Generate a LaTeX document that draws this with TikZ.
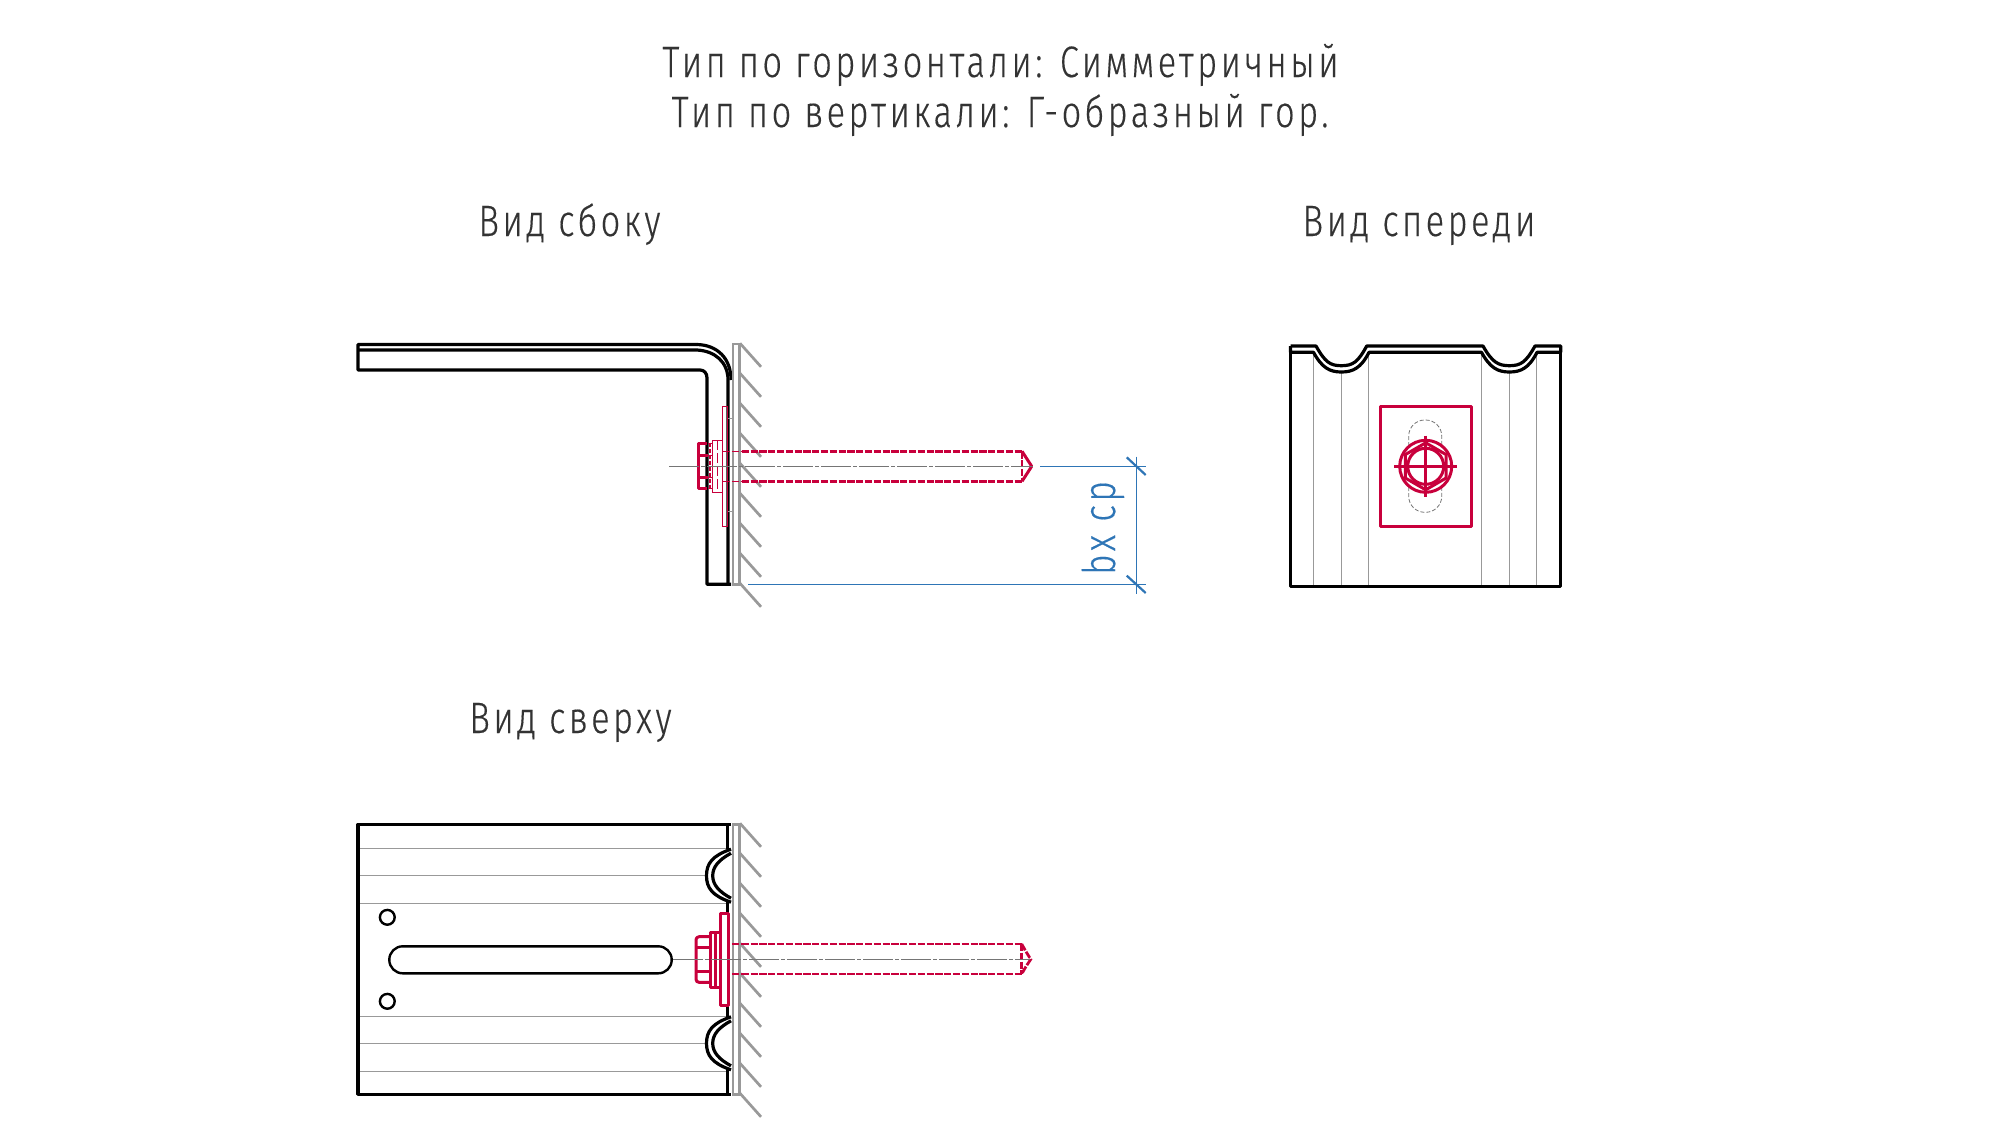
\documentclass[tikz,border=0pt]{standalone}
\usepackage{fontspec}
\setmainfont[UprightFont=* Light,FakeStretch=0.78,LetterSpace=8,FakeBold=0.3]{Fira Sans}
\usetikzlibrary{shapes.geometric}
\definecolor{boltred}{HTML}{C8003C}
\definecolor{dimblue}{HTML}{2E75B6}
\definecolor{wallgray}{HTML}{999999}
\definecolor{axisgray}{HTML}{757575}
\definecolor{titlegray}{HTML}{333333}

\begin{document}
\begin{tikzpicture}[
    x=0.5pt, y=-0.5pt,
    part/.style={draw=black, line width=1.6pt, line join=round},
    foldline/.style={draw=wallgray, line width=0.55pt},
    wall/.style={draw=wallgray, line width=1.35pt},
    axisline/.style={draw=axisgray, line width=0.6pt, dash pattern=on 15pt off 1pt on 2pt off 1pt},
    hidden/.style={draw=axisgray, line width=0.4pt, dash pattern=on 2pt off 1pt},
    bolt/.style={draw=boltred, line width=1.5pt, line join=round},
    boltthin/.style={draw=boltred, line width=0.55pt},
    shank/.style={draw=boltred, line width=1.4pt, dash pattern=on 3.6pt off 0.8pt},
    shankthin/.style={draw=boltred, line width=0.55pt, dash pattern=on 3.4pt off 1pt},
    dim/.style={draw=dimblue, line width=0.55pt},
    dimtick/.style={draw=dimblue, line width=1.1pt},
    title/.style={anchor=base, text=titlegray, font=\fontsize{22}{22}\selectfont},
    dimtext/.style={anchor=base, rotate=90, text=dimblue, font=\fontsize{22.5}{22.5}\selectfont}
]
\fill[white] (0,0) rectangle (2000,1125);
\useasboundingbox (0,0) rectangle (2000,1125);

% titles
\node[title] (typeh) at (1000.5,77) {Тип по горизонтали: Симметричный};
\node[title] (typev) at (1000,127) {Тип по вертикали: Г-образный гор.};
\node[title] (sideview) at (569.5,236) {Вид сбоку};
\node[title] (frontview) at (1419,236) {Вид спереди};
\node[title] (topview) at (570.5,733) {Вид сверху};

% side view
\draw[part] (697,344.5) -- (358,344.5) -- (358,370) -- (700,370)
  .. controls (704,370) and (707,373) .. (707,378) -- (707,584.3) -- (731,584.3);
\draw[part] (358,350) -- (697,350) .. controls (715,351) and (728,362) .. (728,380) -- (728,584.3);
\draw[part] (697,344.5) .. controls (717,345) and (731,358) .. (731,380);

\foreach \n in {0,...,8}
  \draw[wall] (740,{343.3+30*\n}) -- +(21,23.5);
\draw[wall] (733,584.3) -- (733,344) -- (739.3,344) -- (739.3,584.3) -- cycle;

\draw[foldline] (727.3,418.3) -- (733,418.3);
\draw[foldline] (727.3,511.7) -- (733,511.7);
\draw[boltthin] (722.3,406.3) rectangle (727.3,526.7);
\draw[boltthin] (712.3,440.3) rectangle (722.3,492.3);
\draw[boltthin, dash pattern=on 5pt off 1.5pt] (717.3,440.3) -- (717.3,492.3);
\draw[boltthin, dash pattern=on 2pt off 1pt] (710,442.7) -- (710,490);
\draw[boltthin] (708,443.3) -- (712.3,443.3) (708,488.3) -- (712.3,488.3)
  (708,455.3) -- (712.3,455.3) (708,477.3) -- (712.3,477.3);
\draw[bolt] (707,443.3) -- (698.3,443.3) -- (698.3,488.3) -- (707,488.3);
\draw[bolt] (698.3,455.3) -- (708,455.3);
\draw[bolt] (698.3,477.3) -- (708,477.3);

\draw[shankthin] (723,451.3) -- (741.7,451.3);
\draw[shankthin] (723,481.3) -- (741.7,481.3);
\draw[shank] (741.7,451.3) -- (1022,451.3);
\draw[shank] (741.7,481.3) -- (1022,481.3);
\draw[bolt] (1022,451.3) -- (1031.7,466.3) -- (1022,481.3);
\draw[shank] (1022,451.3) -- (1022,481.3);
\draw[axisline] (669.3,466.3) -- (1032.7,466.3);

% dimension
\coordinate (dimtop) at (1136.3,466.3);
\coordinate (dimbottom) at (1136.3,584.3);
\draw[dim] (1040,466.3) -- (1146,466.3);
\draw[dim] (748,584.3) -- (1146,584.3);
\draw[dim] (1136.3,456.7) -- (dimtop) -- (dimbottom) -- (1136.3,594);
\draw[dimtick] (1126.7,457.3) -- (1145.7,475);
\draw[dimtick] (1126.7,575.6) -- (1145.7,593);
\node[dimtext] (dimlabel) at (1115,528) {bx ср};

% front view
\foreach \x in {1313.3,1368.3,1481.3,1536.3}
  \draw[foldline] (\x,353) -- (\x,586.7);
\foreach \x in {1341.3,1509.3}
  \draw[foldline] (\x,372) -- (\x,586.7);
\draw[part] (1290.5,352.3) -- (1290.5,586.7) -- (1560.7,586.7) -- (1560.7,352.3);
\draw[part] (1290.5,346) -- (1316,346)
  .. controls (1325,362) and (1330,365.7) .. (1341.3,365.7)
  .. controls (1353,365.7) and (1358,362) .. (1366.7,346)
  -- (1483,346)
  .. controls (1492,362) and (1498,365.7) .. (1509.3,365.7)
  .. controls (1521,365.7) and (1526,362) .. (1535,346)
  -- (1560.7,346) -- (1560.7,352.3);
\draw[part] (1290.5,346) -- (1290.5,352.3) -- (1313.5,352.3)
  .. controls (1322,368) and (1330,372) .. (1341.3,372)
  .. controls (1353,372) and (1361,368) .. (1369,352.3)
  -- (1481.5,352.3)
  .. controls (1490,368) and (1498,372) .. (1509.3,372)
  .. controls (1521,372) and (1529,368) .. (1537,352.3)
  -- (1560.7,352.3);
\draw[bolt] (1380,406.3) rectangle (1471,526.7);
\draw[hidden, rounded corners=8pt] (1408.7,446) -- (1408.7,420) -- (1441.7,420) -- (1441.7,446);
\draw[hidden, rounded corners=8pt] (1408.7,487) -- (1408.7,512.3) -- (1441.7,512.3) -- (1441.7,487);
\coordinate (frontaxis) at (1425.7,466.3);
\draw[bolt] (frontaxis) circle[radius=13pt];
\draw[bolt] (frontaxis) circle[radius=9pt];
\node[bolt, regular polygon, regular polygon sides=6, shape border rotate=30,
  minimum size=23.5pt, inner sep=0pt] (hexhead) at (frontaxis) {};
\draw[bolt] (1394,466.3) -- (1456.7,466.3);
\draw[bolt] (1425.7,435.7) -- (1425.7,497.3);

% top view
\foreach \y in {848.3,903.3,1016.3,1071.3}
  \draw[foldline] (358,\y) -- (727,\y);
\foreach \y in {875.7,1043.3}
  \draw[foldline] (358,\y) -- (706,\y);
\draw[part] (731,824.3) -- (358,824.3) -- (358,1094.3) -- (731,1094.3);
\draw[part] (727.7,824.3) -- (727.7,849);
\draw[part] (727.7,902) -- (727.7,1017);
\draw[part] (727.7,1070) -- (727.7,1094.3);
\foreach \y in {875.7,1043.3} {
  \draw[part] (731,{\y-26.5}) .. controls (712,{\y-20}) and (706.5,{\y-12}) .. (706.5,\y)
    .. controls (706.5,{\y+12}) and (712,{\y+20}) .. (731,{\y+26.5});
  \draw[part] (731,{\y-22.5}) .. controls (719,{\y-16}) and (712.7,{\y-9}) .. (712.7,\y)
    .. controls (712.7,{\y+9}) and (719,{\y+16}) .. (731,{\y+22.5});
}
\draw[part, line width=1.2pt] (387.3,917.3) circle[radius=3.7pt];
\draw[part, line width=1.2pt] (387.3,1001.3) circle[radius=3.7pt];
\draw[part, line width=1.2pt, rounded corners=6.7pt] (389.3,946.3) rectangle (671.7,973.3);

\foreach \n in {0,...,9}
  \draw[wall] (740,{823.3+30*\n}) -- +(21,23.5);
\draw[wall] (733,1094.3) -- (733,824.3) -- (739.3,824.3) -- (739.3,1094.3) -- cycle;

\draw[shankthin] (723,944) -- (741.7,944);
\draw[shankthin] (723,974) -- (741.7,974);
\draw[shank] (741.7,944) -- (1021.7,944);
\draw[shank] (741.7,974) -- (1021.7,974);
\draw[shank] (1021.7,944) -- (1021.7,974);
\draw[shank] (1021.7,944) .. controls (1025,950) .. (1030.7,959.3) .. controls (1025,968) .. (1021.7,974);
\draw[bolt, fill=white] (720.7,913.3) rectangle (728.7,1005);
\draw[bolt, fill=white] (710,932.7) rectangle (720.7,987.3);
\draw[bolt] (715,932.7) -- (715,987.3);
\draw[bolt, rounded corners=1.5pt] (710,936.7) -- (696,936.7) -- (696,982.3) -- (710,982.3);
\draw[bolt] (696,947.7) -- (710,947.7);
\draw[bolt] (696,971.7) -- (710,971.7);
\draw[axisline] (673,959.3) -- (1030,959.3);
\end{tikzpicture}
\end{document}
